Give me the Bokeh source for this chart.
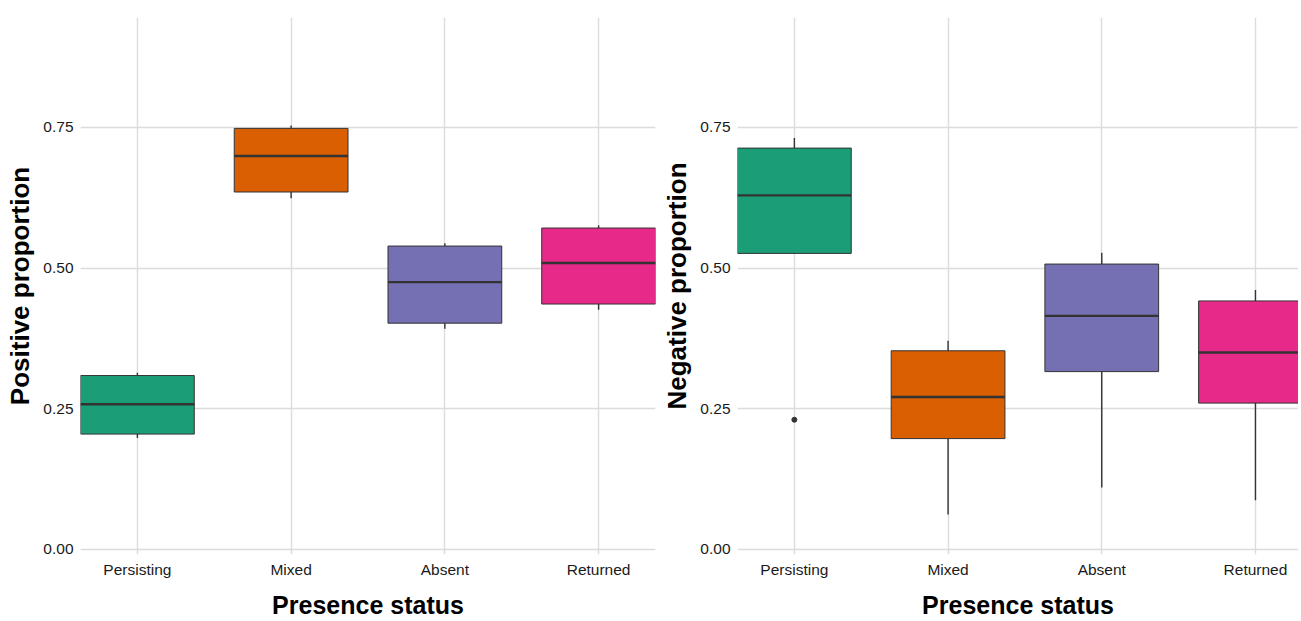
from bokeh.plotting import figure
from bokeh.layouts import row
from bokeh.models import Range1d, FixedTicker, ColumnDataSource
from bokeh.embed import file_html
from bokeh.resources import INLINE

# ---- data ----
categories = ["Persisting", "Mixed", "Absent", "Returned"]
colors = ["#1B9E77", "#D95F02", "#7570B3", "#E7298A"]
y_ticks = [0.0, 0.25, 0.5, 0.75]
y_tick_labels = ["0.00", "0.25", "0.50", "0.75"]

pos_lower = [0.198, 0.624, 0.392, 0.426]
pos_q1 = [0.205, 0.635, 0.402, 0.436]
pos_median = [0.258, 0.699, 0.475, 0.509]
pos_q3 = [0.309, 0.748, 0.539, 0.571]
pos_upper = [0.314, 0.753, 0.544, 0.576]
pos_outlier_cat = []
pos_outlier_val = []

neg_lower = [0.526, 0.062, 0.110, 0.0875]
neg_q1 = [0.526, 0.197, 0.316, 0.260]
neg_median = [0.629, 0.271, 0.415, 0.350]
neg_q3 = [0.713, 0.353, 0.507, 0.4415]
neg_upper = [0.731, 0.371, 0.527, 0.461]
neg_outlier_cat = ["Persisting"]
neg_outlier_val = [0.2305]

FONT = "Liberation Sans"
HALF = 0.37


def make_panel(ylabel, lower, q1, med, q3, upper, out_cat, out_val, width, x_end, border_right):
    xs = list(range(1, len(categories) + 1))
    p = figure(width=width, height=621, output_backend="svg", toolbar_location=None,
               x_range=Range1d(0.63, x_end), y_range=Range1d(-0.0089, 0.945),
               min_border_left=80, min_border_right=border_right, min_border_top=17,
               min_border_bottom=50)
    p.outline_line_color = None
    p.background_fill_color = "white"
    p.border_fill_color = "white"

    src = ColumnDataSource(dict(x=xs, left=[x - HALF for x in xs], right=[x + HALF for x in xs],
                                lower=lower, q1=q1, med=med, q3=q3, upper=upper, color=colors))
    p.segment(x0="x", x1="x", y0="lower", y1="upper", source=src,
              line_color="#333333", line_width=1.4)
    p.quad(left="left", right="right", bottom="q1", top="q3", source=src,
           fill_color="color", line_color="#333333", line_width=1.0)
    p.segment(x0="left", x1="right", y0="med", y1="med", source=src,
              line_color="#333333", line_width=2.4)
    if out_cat:
        ox = [categories.index(c) + 1 for c in out_cat]
        p.scatter(x=ox, y=out_val, size=5, color="#333333")

    for ax in (p.xaxis[0], p.yaxis[0]):
        ax.axis_line_color = None
        ax.major_tick_line_color = None
        ax.minor_tick_line_color = None
        ax.major_tick_out = 0
        ax.major_tick_in = 0
        ax.major_label_text_font = FONT
        ax.major_label_text_font_size = "15.5px"
        ax.major_label_text_color = "#1a1a1a"
        ax.axis_label_text_font = FONT
        ax.axis_label_text_font_style = "bold"
        ax.axis_label_text_color = "#000000"

    p.xaxis.ticker = FixedTicker(ticks=xs)
    p.xaxis.major_label_overrides = {x: c for x, c in zip(xs, categories)}
    p.xaxis.axis_label = "Presence status"
    p.xaxis.axis_label_text_font_size = "25px"
    p.xaxis.major_label_standoff = 6
    p.xaxis.axis_label_standoff = 10

    p.yaxis.ticker = FixedTicker(ticks=y_ticks)
    p.yaxis.major_label_overrides = {t: l for t, l in zip(y_ticks, y_tick_labels)}
    p.yaxis.axis_label = ylabel
    p.yaxis.axis_label_text_font_size = "26px"
    p.yaxis.major_label_standoff = 7
    p.yaxis.axis_label_standoff = 5

    p.xgrid.ticker = FixedTicker(ticks=xs)
    p.ygrid.ticker = FixedTicker(ticks=y_ticks)
    for g in (p.xgrid[0], p.ygrid[0]):
        g.grid_line_color = "#dcdcdc"
        g.grid_line_width = 1.4
        g.minor_grid_line_color = None
    return p


p1 = make_panel("Positive proportion", pos_lower, pos_q1, pos_median, pos_q3, pos_upper,
                pos_outlier_cat, pos_outlier_val, 657, 4.37, 2)
p2 = make_panel("Negative proportion", neg_lower, neg_q1, neg_median, neg_q3, neg_upper,
                neg_outlier_cat, neg_outlier_val, 641, 4.28, 0)

layout = row(p1, p2)
open("out.html", "w").write(file_html(layout, INLINE))
